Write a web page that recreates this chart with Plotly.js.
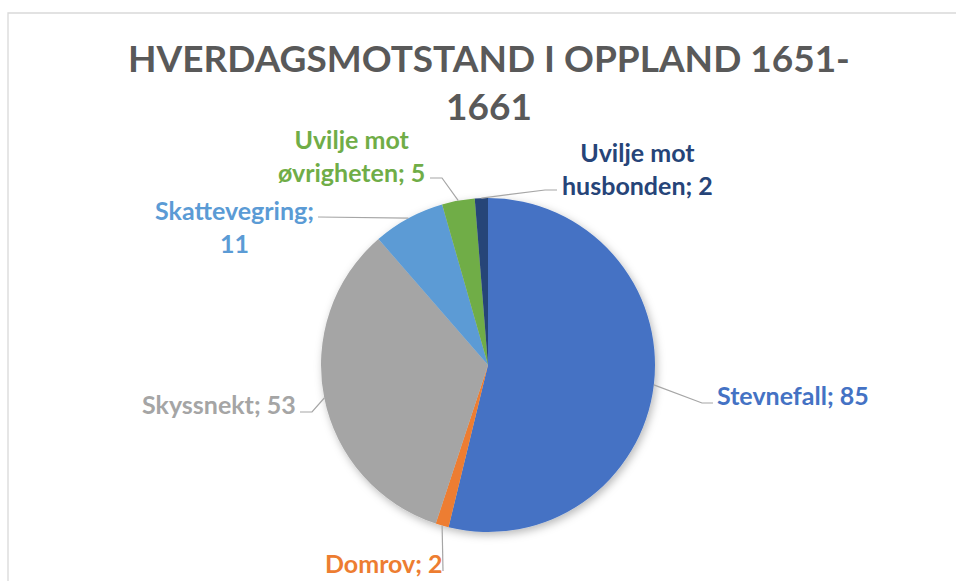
<!DOCTYPE html>
<html><head><meta charset="utf-8">
<script src="https://cdn.plot.ly/plotly-3.0.1.min.js"></script>
<style>html,body{margin:0;padding:0;background:#fff}#chart{width:956px;height:581px}</style>
</head><body><div id="chart"></div>
<script>
// ---- data ----
const categories = ["Stevnefall", "Domrov", "Skyssnekt", "Skattevegring", "Uvilje mot øvrigheten", "Uvilje mot husbonden"];
const values = [85, 2, 53, 11, 5, 2];
const sliceColors = ["#4472C4", "#ED7D31", "#A5A5A5", "#5B9BD5", "#70AD47", "#264478"];
const labelWrapWords = [0, 0, 0, 1, 2, 2]; // words on first line (0 = one line)
const titleText = "HVERDAGSMOTSTAND I OPPLAND 1651-<br>1661";

// ---- layout geometry (pixels) ----
const W = 956, H = 581;
const cx = 488, cy = 365, R = 167;
// label centres and leader-line bend points (pixels)
const labelCenters = [[793, 395], [384, 563], [219, 404], [234, 226], [351, 155], [637, 168]];
const leaderPoints = [
  [[702, 403], [713, 403]],
  [[443, 571]],
  [[312, 412], [300, 412]],
  [[318, 217]],
  [[442, 178], [430, 178]],
  [[545, 190], [557, 190]]
];

const px = x => x / W, py = y => 1 - y / H;
const total = values.reduce((a, b) => a + b, 0);

function labelText(i) {
  const full = categories[i] + "; " + values[i];
  const n = labelWrapWords[i];
  if (!n) return full;
  const words = full.split(" ");
  return words.slice(0, n).join(" ") + "<br>" + words.slice(n).join(" ");
}

const shapes = [{
  type: "rect", xref: "paper", yref: "paper",
  x0: px(8), x1: 1.05, y0: py(13), y1: -0.05,
  line: {color: "#D9D9D9", width: 1.3}, fillcolor: "rgba(0,0,0,0)", layer: "below"
}];
const annotations = [];
let cum = 0;
values.forEach((v, i) => {
  const mid = (cum + v / 2) / total * 2 * Math.PI; cum += v;
  const ex = cx + R * Math.sin(mid), ey = cy - R * Math.cos(mid);
  let path = "M" + px(ex) + "," + py(ey);
  leaderPoints[i].forEach(p => { path += " L" + px(p[0]) + "," + py(p[1]); });
  shapes.push({type: "path", xref: "paper", yref: "paper", path: path,
    line: {color: "#A6A6A6", width: 1.2}});
  annotations.push({
    xref: "paper", yref: "paper", x: px(labelCenters[i][0]), y: py(labelCenters[i][1]),
    xanchor: "center", yanchor: "middle", showarrow: false, align: "center",
    text: labelText(i),
    font: {family: "Lato, sans-serif", size: 25, weight: 700, color: sliceColors[i]}
  });
});

const trace = {
  type: "pie", labels: categories, values: values, sort: false,
  direction: "clockwise", rotation: 0, textinfo: "none", hoverinfo: "label+value",
  marker: {colors: sliceColors, line: {width: 0}},
  domain: {x: [px(cx - R), px(cx + R)], y: [py(cy + R), py(cy - R)]}
};

const layout = {
  width: W, height: H, margin: {l: 0, r: 0, t: 0, b: 0},
  paper_bgcolor: "#FFFFFF", showlegend: false,
  title: {text: titleText, x: px(489), xref: "paper", xanchor: "center",
    y: py(72), yref: "paper", yanchor: "top",
    font: {family: "Lato, sans-serif", size: 37, weight: 700, color: "#595959"}},
  shapes: shapes, annotations: annotations
};

Plotly.newPlot("chart", [trace], layout, {displayModeBar: false, staticPlot: true}).then(gd => {
  const svg = gd.querySelector(".main-svg");
  const ns = "http://www.w3.org/2000/svg";
  const defs = document.createElementNS(ns, "defs");
  defs.innerHTML = '<filter id="pieShadow" x="-20%" y="-20%" width="140%" height="140%">' +
    '<feDropShadow dx="2" dy="3" stdDeviation="4" flood-color="#000" flood-opacity="0.28"/></filter>';
  svg.insertBefore(defs, svg.firstChild);
  const pl = gd.querySelector(".pielayer");
  if (pl) pl.setAttribute("filter", "url(#pieShadow)");
});
</script>
</body></html>
